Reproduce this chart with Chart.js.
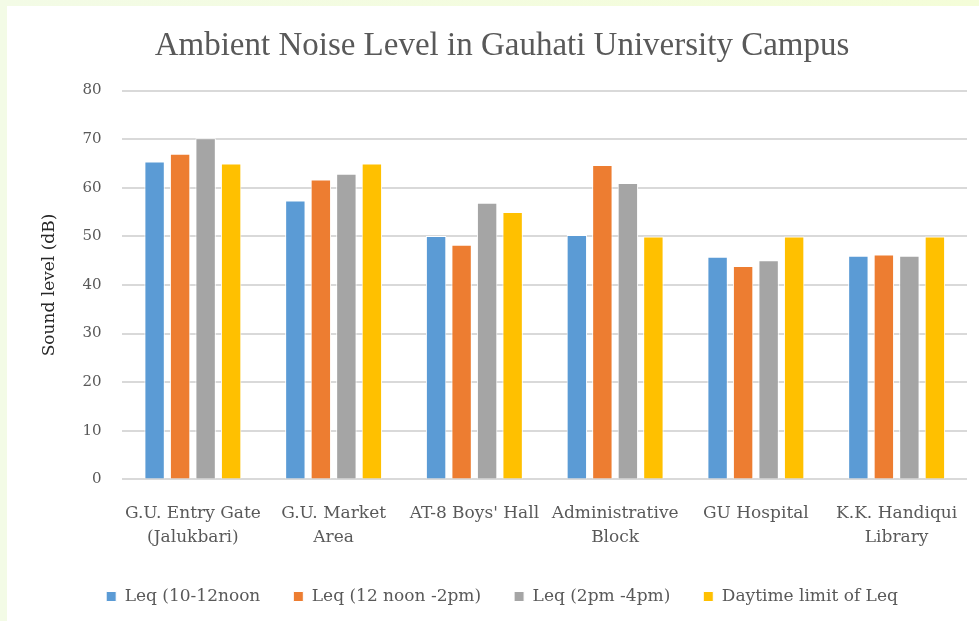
<!DOCTYPE html>
<html>
<head>
<meta charset="utf-8">
<script src="https://cdn.jsdelivr.net/npm/chart.js@4"></script>
<style>
  html, body { margin: 0; padding: 0; }
  body { width: 979px; height: 621px; background: linear-gradient(90deg, #f3fbe6, #f4fdd8); overflow: hidden; }
  #box { position: absolute; left: 7px; top: 6px; width: 972px; height: 615px; background: #fff; overflow: hidden; }
</style>
</head>
<body>
<div id="box"><canvas id="myChart" width="972" height="615"></canvas></div>
<script>
// categories and series
let sites = [['G.U. Entry Gate', '(Jalukbari)'], ['G.U. Market', 'Area'], "AT-8 Boys' Hall", ['Administrative', 'Block'], 'GU Hospital', ['K.K. Handiqui', 'Library']];
let leqMorning = [65.4, 57.4, 50.1, 50.3, 45.8, 46.0];
let leqNoon = [67.0, 61.7, 48.3, 64.7, 43.9, 46.3];
let leqAfternoon = [70.2, 62.9, 56.9, 61.0, 45.1, 46.0];
let daytimeLimit = [65, 65, 55, 50, 50, 50];
let yTicks = [0, 10, 20, 30, 40, 50, 60, 70, 80];

let serif = '"Liberation Serif", "Times New Roman", serif';
let wide = '"DejaVu Serif", serif';

function makeSet(label, data, color){
    return {
        label: label,
        data: data,
        backgroundColor: color,
        borderColor: '#ffffff',
        borderWidth: 1,
        categoryPercentage: 0.725,
        barPercentage: 0.8
    };
}

var ctx = document.getElementById('myChart').getContext('2d');
var chart = new Chart(ctx, {
    type: 'bar',
    data: {
        labels: sites,
        datasets: [
            makeSet('Leq (10-12noon', leqMorning, '#5b9bd5'),
            makeSet('Leq (12 noon -2pm)', leqNoon, '#ed7d31'),
            makeSet('Leq (2pm -4pm)', leqAfternoon, '#a5a5a5'),
            makeSet('Daytime limit of Leq', daytimeLimit, '#ffc000')
        ]
    },
    options: {
        responsive: false,
        animation: false,
        layout: { padding: { left: 30, right: 12, top: 21, bottom: 6 } },
        plugins: {
            title: {
                display: true,
                text: 'Ambient Noise Level in Gauhati University Campus',
                color: '#595959',
                font: { family: serif, size: 33, weight: 'normal' },
                padding: { top: 0, bottom: 24 }
            },
            legend: {
                position: 'bottom',
                labels: {
                    boxWidth: 10,
                    boxHeight: 10,
                    padding: 33,
                    color: '#595959',
                    font: { family: wide, size: 17 }
                }
            },
            tooltip: { enabled: false }
        },
        scales: {
            x: {
                grid: { display: false },
                border: { display: false },
                afterFit: function(axis){
                    // let the legend sit closer to the category labels
                    axis.height -= 8;
                },
                ticks: {
                    color: '#595959',
                    font: { family: wide, size: 17, lineHeight: 1.4 },
                    maxRotation: 0,
                    autoSkip: false,
                    padding: 14
                }
            },
            y: {
                min: 0,
                max: 80,
                afterBuildTicks: function(axis){
                    axis.ticks = yTicks.map(function(v){ return { value: v }; });
                },
                grid: { color: '#d9d9d9', lineWidth: 2, drawTicks: false },
                border: { display: false },
                ticks: {
                    color: '#595959',
                    font: { family: wide, size: 15 },
                    padding: 21
                },
                title: {
                    display: true,
                    text: 'Sound level (dB)',
                    color: '#262626',
                    font: { family: wide, size: 17 },
                    padding: { top: 2, bottom: 2 }
                }
            }
        }
    }
});
</script>
</body>
</html>
